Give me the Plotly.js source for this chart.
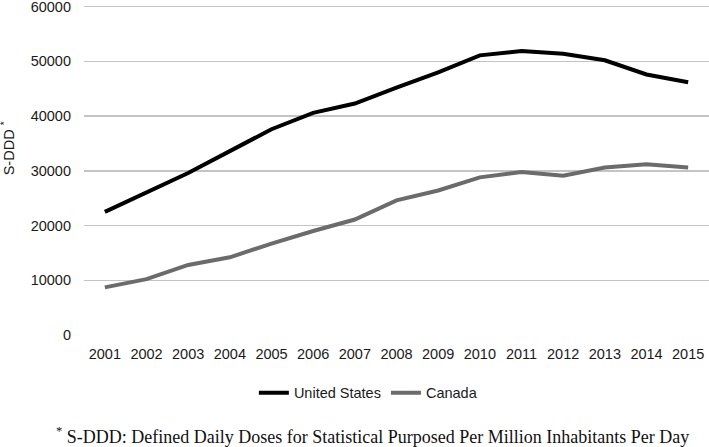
<!DOCTYPE html>
<html>
<head>
<meta charset="utf-8">
<script src="https://cdn.plot.ly/plotly-3.0.1.min.js"></script>
<style>html,body{margin:0;padding:0;background:#fff;}#chart{width:709px;height:447px;}</style>
</head>
<body>
<div id="chart"></div>
<script>
const years = ["2001","2002","2003","2004","2005","2006","2007","2008","2009","2010","2011","2012","2013","2014","2015"];
const unitedStates = [22500, 26000, 29600, 33600, 37600, 40600, 42300, 45200, 48000, 51100, 51900, 51400, 50200, 47600, 46200];
const canada = [8700, 10200, 12800, 14200, 16700, 19000, 21100, 24600, 26400, 28800, 29800, 29100, 30600, 31200, 30600];
const yTicks = [0, 10000, 20000, 30000, 40000, 50000, 60000];

const font = {family: "Liberation Sans, Arial, sans-serif", size: 14.5, color: "#1a1a1a"};

const traces = [
  {x: years, y: unitedStates, type: "scatter", mode: "lines", name: "United States",
   line: {color: "#000000", width: 4}},
  {x: years, y: canada, type: "scatter", mode: "lines", name: "Canada",
   line: {color: "#6b6b6b", width: 4}}
];

const layout = {
  width: 709, height: 447,
  margin: {l: 84, r: 0, t: 5, b: 112},
  paper_bgcolor: "#fff", plot_bgcolor: "#fff",
  font: font,
  showlegend: true,
  legend: {orientation: "h", x: 0.455, xanchor: "center", y: -0.175, yanchor: "middle",
           font: font, itemwidth: 30, traceorder: "normal"},
  xaxis: {type: "category", range: [-0.5, 14.5], showgrid: false, zeroline: false,
          showline: false, ticks: "", tickfont: font, ticklabelstandoff: 8, fixedrange: true},
  yaxis: {range: [0, 60300], tickvals: yTicks, ticktext: yTicks.map(String),
          showgrid: true, gridcolor: "#c4c4c4", gridwidth: 1.5, zeroline: false,
          showline: false, ticks: "", tickfont: font, ticklabelstandoff: 12,
          ticklabeloverflow: "allow", fixedrange: true},
  annotations: [
    {text: "S-DDD <sup>*</sup>", xref: "paper", yref: "paper", x: -0.122, y: 0.565,
     xanchor: "center", yanchor: "middle", textangle: -90, showarrow: false, font: font},
    {text: "<sup>*</sup> S-DDD: Defined Daily Doses for Statistical Purposed Per Million Inhabitants Per Day",
     xref: "paper", yref: "paper", x: 0.462, y: -0.305, xanchor: "center", yanchor: "middle",
     showarrow: false, font: {family: "Liberation Serif, Times New Roman, serif", size: 18, color: "#111"}}
  ]
};

Plotly.newPlot("chart", traces, layout, {displayModeBar: false, staticPlot: true});
</script>
</body>
</html>
